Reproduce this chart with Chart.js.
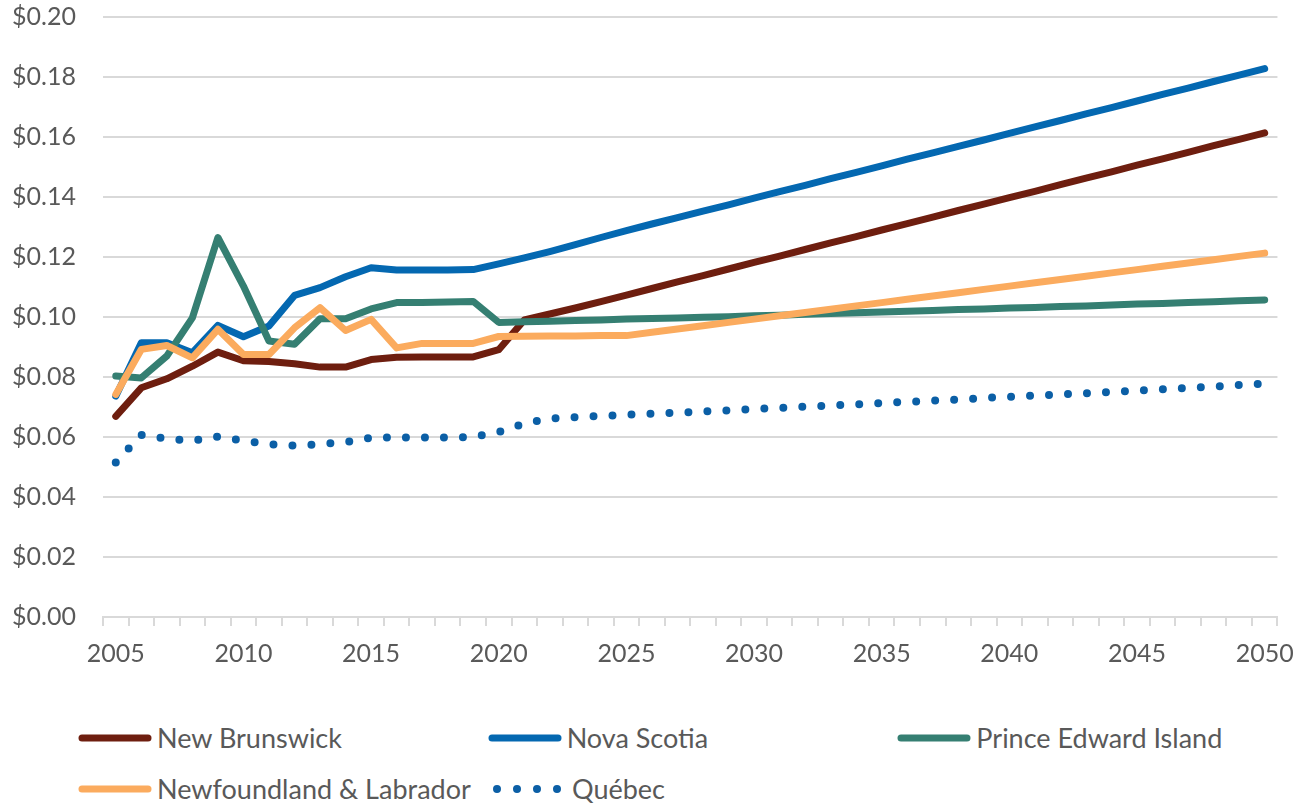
<!DOCTYPE html>
<html>
<head>
<meta charset="utf-8">
<script src="https://cdn.jsdelivr.net/npm/chart.js@4.4.1/dist/chart.umd.min.js"></script>
<style>
    body { margin: 0; background: #fff; font-family: Lato, sans-serif; }
    #wrap { position: relative; width: 1307px; height: 806px; }
    #chart-box { position: absolute; left: 0; top: 0; width: 1307px; height: 682px; }
    #legend { position: absolute; left: 78px; top: 712px; width: 1229px; }
    .leg-row { display: flex; height: 51px; align-items: center; }
    .leg-item { display: flex; align-items: center; width: 415px; color: #595959; font-size: 27px; }
    .leg-item svg { margin-right: 5px; }
</style>
</head>
<body>
<div id="wrap">
    <div id="chart-box"><canvas id="price-chart"></canvas></div>
    <div id="legend"></div>
</div>
<script>
const years = [
    '2005','2006','2007','2008','2009','2010','2011','2012','2013','2014',
    '2015','2016','2017','2018','2019','2020','2021','2022','2023','2024',
    '2025','2026','2027','2028','2029','2030','2031','2032','2033','2034',
    '2035','2036','2037','2038','2039','2040','2041','2042','2043','2044',
    '2045','2046','2047','2048','2049','2050'
];

const newBrunswick = [
    0.0669, 0.0764, 0.0794, 0.0836, 0.0883, 0.0854, 0.0852, 0.0844, 0.0833, 0.0833,
    0.0858, 0.0866, 0.0867, 0.0867, 0.0867, 0.0891, 0.0990, 0.1010, 0.1030, 0.1051,
    0.1073, 0.1095, 0.1117, 0.1138, 0.1160, 0.1182, 0.1203, 0.1225, 0.1247, 0.1268,
    0.1290, 0.1311, 0.1333, 0.1355, 0.1376, 0.1398, 0.1419, 0.1441, 0.1463, 0.1484,
    0.1506, 0.1527, 0.1549, 0.1571, 0.1592, 0.1614
];

const novaScotia = [
    0.0736, 0.0914, 0.0914, 0.0881, 0.0972, 0.0934, 0.0970, 0.1072, 0.1098, 0.1134,
    0.1164, 0.1157, 0.1157, 0.1157, 0.1158, 0.1177, 0.1197, 0.1218, 0.1241, 0.1265,
    0.1288, 0.1310, 0.1331, 0.1353, 0.1374, 0.1396, 0.1418, 0.1439, 0.1461, 0.1482,
    0.1504, 0.1526, 0.1547, 0.1569, 0.1590, 0.1612, 0.1634, 0.1655, 0.1677, 0.1698,
    0.1720, 0.1742, 0.1763, 0.1785, 0.1806, 0.1828
];

const princeEdward = [
    0.0803, 0.0797, 0.0870, 0.0997, 0.1265, 0.1103, 0.0920, 0.0909, 0.0994, 0.0994,
    0.1027, 0.1048, 0.1048, 0.1050, 0.1052, 0.0982, 0.0984, 0.0986, 0.0988, 0.0990,
    0.0993, 0.0995, 0.0997, 0.0999, 0.1001, 0.1004, 0.1006, 0.1009, 0.1012, 0.1014,
    0.1017, 0.1019, 0.1022, 0.1025, 0.1027, 0.1030, 0.1032, 0.1035, 0.1037, 0.1040,
    0.1043, 0.1045, 0.1048, 0.1051, 0.1054, 0.1057
];

const newfoundland = [
    0.0742, 0.0892, 0.0905, 0.0864, 0.0959, 0.0875, 0.0875, 0.0964, 0.1031, 0.0955,
    0.0992, 0.0897, 0.0912, 0.0912, 0.0912, 0.0935, 0.0936, 0.0937, 0.0937, 0.0938,
    0.0938, 0.0949, 0.0960, 0.0971, 0.0982, 0.0993, 0.1004, 0.1015, 0.1026, 0.1037,
    0.1048, 0.1059, 0.1070, 0.1081, 0.1092, 0.1103, 0.1114, 0.1125, 0.1136, 0.1147,
    0.1158, 0.1169, 0.1180, 0.1191, 0.1202, 0.1213
];

const quebec = [
    0.0515, 0.0607, 0.0594, 0.0588, 0.0601, 0.0588, 0.0576, 0.0571, 0.0576, 0.0583,
    0.0598, 0.0598, 0.0598, 0.0598, 0.0600, 0.0617, 0.0645, 0.0662, 0.0666, 0.0670,
    0.0674, 0.0678, 0.0681, 0.0685, 0.0689, 0.0693, 0.0697, 0.0701, 0.0705, 0.0709,
    0.0713, 0.0717, 0.0721, 0.0725, 0.0730, 0.0734, 0.0738, 0.0742, 0.0746, 0.0750,
    0.0755, 0.0759, 0.0764, 0.0768, 0.0773, 0.0778
];

const yTicks = [0, 0.02, 0.04, 0.06, 0.08, 0.10, 0.12, 0.14, 0.16, 0.18, 0.20];

const textColor = '#595959';
const gridColor = '#d9d9d9';
const fontFamily = 'Lato, sans-serif';

function lineSet(label, data, color, order, dotted) {
    return {
        label: label,
        data: data,
        borderColor: color,
        backgroundColor: color,
        borderWidth: dotted ? 8 : 7,
        borderDash: dotted ? [0, 19] : [],
        borderCapStyle: 'round',
        borderJoinStyle: 'round',
        pointRadius: 0,
        pointHoverRadius: 0,
        tension: 0,
        fill: false,
        order: order
    };
}

const ctx = document.getElementById('price-chart').getContext('2d');

const chart = new Chart(ctx, {
    type: 'line',
    data: {
        labels: years,
        datasets: [
            lineSet('New Brunswick', newBrunswick, '#6e1e0f', 5, false),
            lineSet('Nova Scotia', novaScotia, '#0468b1', 4, false),
            lineSet('Prince Edward Island', princeEdward, '#357f72', 3, false),
            lineSet('Newfoundland & Labrador', newfoundland, '#fbab5e', 2, false),
            lineSet('Québec', quebec, '#0b5fa6', 1, true)
        ]
    },
    options: {
        responsive: true,
        maintainAspectRatio: false,
        animation: false,
        layout: {
            padding: { top: 0, right: 29, bottom: 0, left: 0 }
        },
        plugins: {
            legend: { display: false },
            tooltip: { enabled: false }
        },
        scales: {
            x: {
                offset: true,
                grid: {
                    offset: true,
                    drawOnChartArea: false,
                    drawTicks: true,
                    tickLength: 9,
                    color: gridColor,
                    lineWidth: 2
                },
                border: { color: gridColor, width: 2 },
                ticks: {
                    autoSkip: false,
                    maxRotation: 0,
                    minRotation: 0,
                    padding: 13,
                    color: textColor,
                    font: { family: fontFamily, size: 25 },
                    callback: function(value, index) {
                        const year = years[index];
                        return Number(year) % 5 === 0 ? year : '';
                    }
                }
            },
            y: {
                min: 0,
                max: 0.2,
                afterBuildTicks: function(scale) {
                    scale.ticks = yTicks.map(v => ({ value: v }));
                },
                afterFit: function(scale) {
                    scale.width = 103;
                    scale.paddingTop = 17;
                    scale.paddingBottom = 0;
                },
                grid: {
                    drawTicks: false,
                    color: gridColor,
                    lineWidth: 2
                },
                border: { display: false },
                ticks: {
                    padding: 27,
                    color: textColor,
                    font: { family: fontFamily, size: 25 },
                    callback: function(value) {
                        return '$' + value.toFixed(2);
                    }
                }
            }
        }
    }
});

function buildLegend(chart) {
    const box = document.getElementById('legend');
    const sets = chart.data.datasets;
    const rows = [sets.slice(0, 3), sets.slice(3)];
    rows.forEach(rowSets => {
        const row = document.createElement('div');
        row.className = 'leg-row';
        rowSets.forEach(ds => {
            const item = document.createElement('div');
            item.className = 'leg-item';
            const dotted = ds.borderDash.length > 0;
            const line = dotted
                ? '<line x1="4" y1="6" x2="66" y2="6" stroke="' + ds.borderColor + '" stroke-width="8" stroke-linecap="round" stroke-dasharray="0 20"/>'
                : '<line x1="4" y1="6" x2="70" y2="6" stroke="' + ds.borderColor + '" stroke-width="7" stroke-linecap="round"/>';
            item.innerHTML = '<svg width="74" height="12">' + line + '</svg><span>' + ds.label + '</span>';
            row.appendChild(item);
        });
        box.appendChild(row);
    });
}

buildLegend(chart);
</script>
</body>
</html>
